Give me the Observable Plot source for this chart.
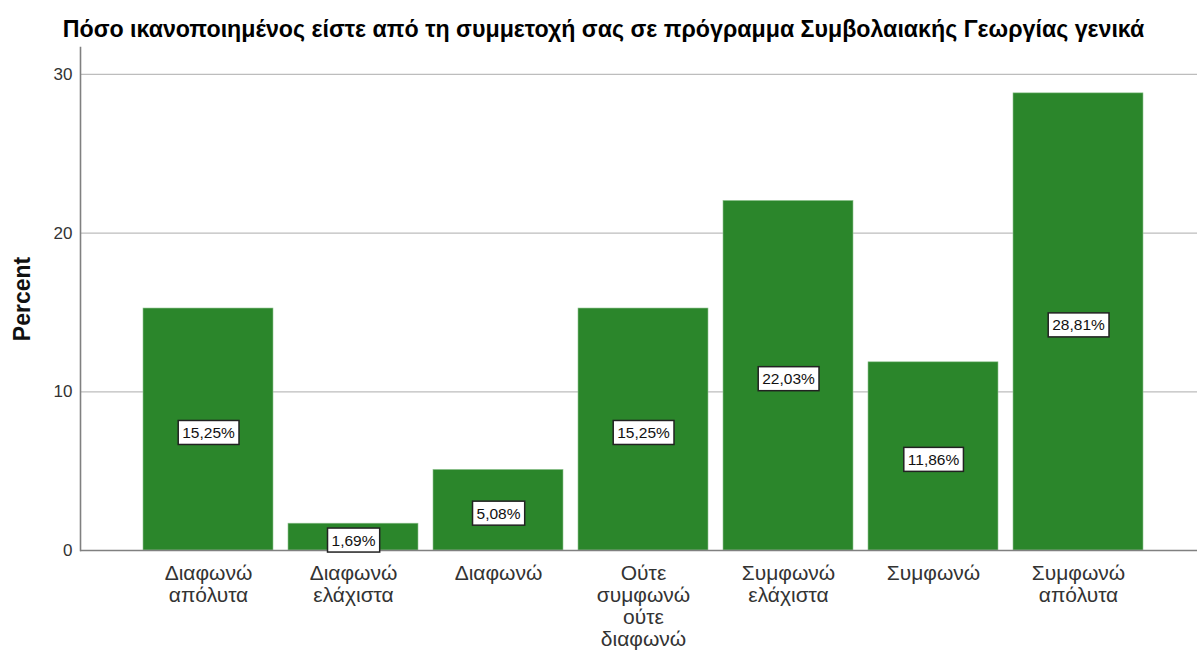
<!DOCTYPE html>
<html>
<head>
<meta charset="utf-8">
<script src="https://cdn.jsdelivr.net/npm/d3@7"></script>
<script src="https://cdn.jsdelivr.net/npm/@observablehq/plot@0.6"></script>
<style>
  body { margin: 0; background: #fff; }
  #chart svg { font-family: "Liberation Sans", Arial, sans-serif; }
</style>
</head>
<body>
<div id="chart"></div>
<script>
const categories = [
  "Διαφωνώ απόλυτα",
  "Διαφωνώ ελάχιστα",
  "Διαφωνώ",
  "Ούτε συμφωνώ ούτε διαφωνώ",
  "Συμφωνώ ελάχιστα",
  "Συμφωνώ",
  "Συμφωνώ απόλυτα"
];
const tickLabels = [
  "Διαφωνώ\nαπόλυτα",
  "Διαφωνώ\nελάχιστα",
  "Διαφωνώ",
  "Ούτε\nσυμφωνώ\nούτε\nδιαφωνώ",
  "Συμφωνώ\nελάχιστα",
  "Συμφωνώ",
  "Συμφωνώ\nαπόλυτα"
];
const percents = [15.25, 1.69, 5.08, 15.25, 22.03, 11.86, 28.81];
const yTicks = [0, 10, 20, 30];
const title = "Πόσο ικανοποιημένος είστε από τη συμμετοχή σας σε πρόγραμμα Συμβολαιακής Γεωργίας γενικά";
const yLabel = "Percent";

const data = categories.map((c, i) => ({category: c, value: percents[i]}));
const fmt = v => v.toFixed(2).replace(".", ",") + "%";

const chart = Plot.plot({
  width: 1197,
  height: 654,
  marginTop: 47,
  marginBottom: 104,
  marginLeft: 80,
  marginRight: 0,
  style: {fontFamily: '"Liberation Sans", Arial, sans-serif', background: "#fff"},
  x: {domain: categories, paddingInner: 0.1034, paddingOuter: 0.4034, align: 0.538, label: null},
  y: {domain: [0, 31.7], label: null},
  marks: [
    Plot.ruleY(yTicks.filter(d => d > 0), {stroke: "#bdbdbd", strokeWidth: 1.2}),
    Plot.barY(data, {x: "category", y: "value", fill: "#2b862b", stroke: "#8fc48f", strokeWidth: 0.6}),
    Plot.ruleY([0], {stroke: "#808080", strokeWidth: 1.6}),
    Plot.frame({anchor: "left", stroke: "#808080", strokeWidth: 1.6}),
    Plot.axisY({ticks: yTicks, tickSize: 0, tickPadding: 8, fontSize: 17, fill: "#333", label: null}),
    Plot.axisX({tickSize: 0, tickPadding: 14, fontSize: 21, lineHeight: 1.04, fill: "#333", label: null,
      tickFormat: d => tickLabels[categories.indexOf(d)]}),
    Plot.text(data, {x: "category", y: d => d.value / 2, dy: 3.5, text: d => fmt(d.value),
      fontSize: 15.5, fill: "#111", className: "vlabel"}),
    Plot.text([yLabel], {frameAnchor: "left", textAnchor: "middle", rotate: -90, dx: -58,
      fontSize: 23, fontWeight: "bold", fill: "#111"}),
    Plot.text([title], {frameAnchor: "top", lineAnchor: "middle", dx: -35.5, dy: -17.5,
      fontSize: 23.2, fontWeight: "bold", fill: "#000"})
  ]
});
document.getElementById("chart").appendChild(chart);

// white boxes with dark border behind value labels
document.querySelectorAll("g.vlabel text").forEach(t => {
  const b = t.getBBox();
  const r = document.createElementNS("http://www.w3.org/2000/svg", "rect");
  r.setAttribute("x", b.x - 4);
  r.setAttribute("y", b.y - 3.5);
  r.setAttribute("width", b.width + 8);
  r.setAttribute("height", b.height + 7);
  r.setAttribute("fill", "#fff");
  r.setAttribute("stroke", "#222");
  r.setAttribute("stroke-width", 1.5);
  const tr = t.getAttribute("transform");
  if (tr) r.setAttribute("transform", tr);
  t.parentNode.insertBefore(r, t);
});
</script>
</body>
</html>
